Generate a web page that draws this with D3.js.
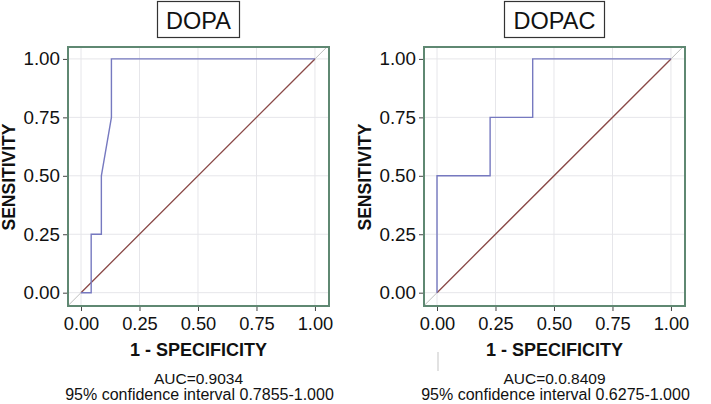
<!DOCTYPE html>
<html><head><meta charset="utf-8">
<script src="https://cdn.jsdelivr.net/npm/d3@7"></script>
<style>body{margin:0;background:#fff;}svg{display:block;font-family:"Liberation Sans",Arial,sans-serif;}</style>
</head><body>
<svg id="c" width="711" height="404"></svg>
<script>
const panelTitles = ["DOPA", "DOPAC"];
const tickValues = [0, 0.25, 0.5, 0.75, 1];
const tickLabels = ["0.00", "0.25", "0.50", "0.75", "1.00"];
const dopaFpr  = [0, 0.0435, 0.0435, 0.087, 0.087, 0.13, 0.13, 1];
const dopaTpr  = [0, 0, 0.25, 0.25, 0.5, 0.75, 1, 1];
const dopacFpr = [0, 0, 0.227, 0.227, 0.409, 0.409, 1];
const dopacTpr = [0, 0.5, 0.5, 0.75, 0.75, 1, 1];
const aucLabels = ["AUC=0.9034", "AUC=0.0.8409"];
const ciLabels = ["95% confidence interval 0.7855-1.000", "95% confidence interval 0.6275-1.000"];
const xTitle = "1 - SPECIFICITY";
const yTitle = "SENSITIVITY";

const svg = d3.select("#c");
const panels = [
  {fpr: dopaFpr, tpr: dopaTpr, ox: 0, titleW: 82},
  {fpr: dopacFpr, tpr: dopacTpr, ox: 356, titleW: 100}
];

panels.forEach((p, i) => {
  const g = svg.append("g").attr("transform", `translate(${p.ox},0)`);
  const x = d3.scaleLinear().domain([-0.0556, 1.06]).range([68, 329]);
  const y = d3.scaleLinear().domain([-0.057, 1.051]).range([306, 47]);
  const cx = (x.range()[0] + x.range()[1]) / 2;

  g.selectAll(".gx").data(tickValues).join("line")
    .attr("x1", d => x(d)).attr("x2", d => x(d)).attr("y1", 47).attr("y2", 306)
    .attr("stroke", "#e6e6ea").attr("stroke-width", 1);
  g.selectAll(".gy").data(tickValues).join("line")
    .attr("y1", d => y(d)).attr("y2", d => y(d)).attr("x1", 68).attr("x2", 329)
    .attr("stroke", "#e6e6ea").attr("stroke-width", 1);

  const xa = g.append("g").attr("transform", "translate(0,306)")
    .call(d3.axisBottom(x).tickValues(tickValues).tickFormat((d, j) => tickLabels[j]).tickSize(5).tickPadding(6));
  const ya = g.append("g").attr("transform", "translate(68,0)")
    .call(d3.axisLeft(y).tickValues(tickValues).tickFormat((d, j) => tickLabels[j]).tickSize(5).tickPadding(3));
  [xa, ya].forEach((a, k) => {
    a.select(".domain").remove();
    a.selectAll(".tick line").attr("stroke", "#444");
    a.selectAll(".tick text").attr("fill", "#111").style("font-size", k === 0 ? "18.3px" : "18.8px")
      .style("font-family", '"Liberation Sans",Arial,sans-serif');
  });

  g.append("line").attr("x1", x(-0.056)).attr("y1", y(-0.056)).attr("x2", x(1.05)).attr("y2", y(1.05))
    .attr("stroke", "#bdbdbd").attr("stroke-width", 1);
  g.append("line").attr("x1", x(0)).attr("y1", y(0)).attr("x2", x(1)).attr("y2", y(1))
    .attr("stroke", "#8c4a48").attr("stroke-width", 1.3);
  const pts = p.fpr.map((f, j) => [f, p.tpr[j]]);
  g.append("path").datum(pts)
    .attr("d", d3.line().x(d => x(d[0])).y(d => y(d[1])))
    .attr("fill", "none").attr("stroke", "#7679c0").attr("stroke-width", 1.4);

  g.append("rect").attr("x", 68).attr("y", 47).attr("width", 261).attr("height", 259)
    .attr("fill", "none").attr("stroke", "#5f8872").attr("stroke-width", 2);

  const tw = p.titleW;
  g.append("rect").attr("x", cx - tw / 2).attr("y", 1.5).attr("width", tw).attr("height", 36)
    .attr("fill", "#fff").attr("stroke", "#333").attr("stroke-width", 1.2);
  g.append("text").attr("x", cx).attr("y", 28.5).attr("text-anchor", "middle")
    .style("font-size", "23.5px").attr("fill", "#111").text(panelTitles[i]);

  g.append("text").attr("x", cx).attr("y", 356).attr("text-anchor", "middle")
    .style("font-size", "18px").style("font-weight", "bold").attr("fill", "#111").text(xTitle);
  g.append("text").attr("transform", `translate(15,177) rotate(-90)`).attr("text-anchor", "middle")
    .style("font-size", "17.5px").style("font-weight", "bold").attr("fill", "#111").text(yTitle);

  g.append("text").attr("x", cx).attr("y", 384).attr("text-anchor", "middle")
    .style("font-size", "15.5px").attr("fill", "#111").text(aucLabels[i]);
  g.append("text").attr("x", cx + 1).attr("y", 400).attr("text-anchor", "middle")
    .style("font-size", "16px").attr("fill", "#111").text(ciLabels[i]);
});

svg.append("rect").attr("x", 437).attr("y", 352).attr("width", 2).attr("height", 19).attr("fill", "#e2e2e2");
</script>
</body></html>
